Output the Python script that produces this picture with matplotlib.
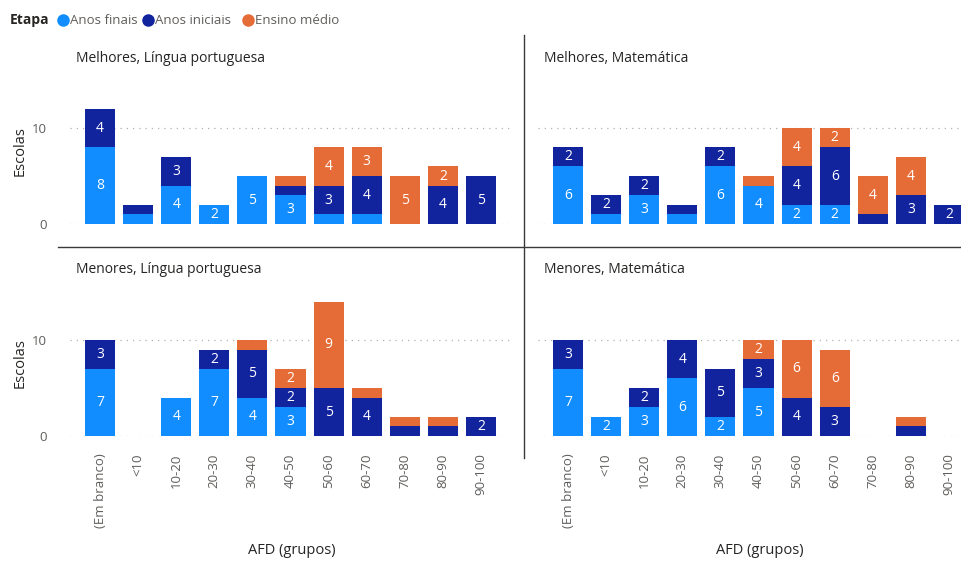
import matplotlib
matplotlib.use("Agg")
import matplotlib.pyplot as plt
from matplotlib.lines import Line2D
import numpy as np

plt.rcParams['font.family'] = ['Open Sans', 'DejaVu Sans']

groups = ["(Em branco)", "<10", "10-20", "20-30", "30-40", "40-50",
          "50-60", "60-70", "70-80", "80-90", "90-100"]
series = ["Anos finais", "Anos iniciais", "Ensino médio"]
colors = ["#118DFF", "#12239E", "#E66C37"]

# escolas por etapa em cada faixa de AFD
melhores_lp_finais = [8, 1, 4, 2, 5, 3, 1, 1, 0, 0, 0]
melhores_lp_iniciais = [4, 1, 3, 0, 0, 1, 3, 4, 0, 4, 5]
melhores_lp_medio = [0, 0, 0, 0, 0, 1, 4, 3, 5, 2, 0]

melhores_mat_finais = [6, 1, 3, 1, 6, 4, 2, 2, 0, 0, 0]
melhores_mat_iniciais = [2, 2, 2, 1, 2, 0, 4, 6, 1, 3, 2]
melhores_mat_medio = [0, 0, 0, 0, 0, 1, 4, 2, 4, 4, 0]

menores_lp_finais = [7, 0, 4, 7, 4, 3, 0, 0, 0, 0, 0]
menores_lp_iniciais = [3, 0, 0, 2, 5, 2, 5, 4, 1, 1, 2]
menores_lp_medio = [0, 0, 0, 0, 1, 2, 9, 1, 1, 1, 0]

menores_mat_finais = [7, 2, 3, 6, 2, 5, 0, 0, 0, 0, 0]
menores_mat_iniciais = [3, 0, 2, 4, 5, 3, 4, 3, 0, 1, 0]
menores_mat_medio = [0, 0, 0, 0, 0, 2, 6, 6, 0, 1, 0]

panels = [
    ("Melhores, Língua portuguesa",
     [melhores_lp_finais, melhores_lp_iniciais, melhores_lp_medio]),
    ("Melhores, Matemática",
     [melhores_mat_finais, melhores_mat_iniciais, melhores_mat_medio]),
    ("Menores, Língua portuguesa",
     [menores_lp_finais, menores_lp_iniciais, menores_lp_medio]),
    ("Menores, Matemática",
     [menores_mat_finais, menores_mat_iniciais, menores_mat_medio]),
]

W, H = 961, 561
fig = plt.figure(figsize=(W / 100, H / 100), dpi=100)

dark = "#252423"
grey = "#605E5C"

# caixas em pixels: (esquerda, direita, linha do zero, topo)
boxes = [(70, 510, 224, 84), (538, 961, 224, 84),
         (70, 510, 436, 296), (538, 961, 436, 296)]
first_center = [100, 568, 100, 568]
xlabel_center = [292, 760]
pitch = 38.1

x = np.arange(len(groups))
for i, ((title, vals), (l, r, b, t)) in enumerate(zip(panels, boxes)):
    ax = fig.add_axes([l / W, (H - b) / H, (r - l) / W, (b - t) / H])
    ax.set_xlim((l - first_center[i]) / pitch, (r - first_center[i]) / pitch)
    ax.set_ylim(0, (b - t) / 9.6)
    bottom = np.zeros(len(groups))
    for name, v, c in zip(series, vals, colors):
        v = np.array(v, dtype=float)
        ax.bar(x, v, width=0.79, bottom=bottom, color=c, label=name, zorder=3)
        for xi, (bi, vi) in enumerate(zip(bottom, v)):
            if vi >= 2:
                ax.text(xi, bi + vi / 2, f"{int(vi)}", ha="center", va="center",
                        color="white", fontsize=10, zorder=4)
        bottom += v
    ax.set_yticks([0, 10])
    ax.yaxis.grid(True, linestyle=(0, (1, 4)), color="#B3B0AD", linewidth=0.9, zorder=0)
    ax.set_axisbelow(True)
    for s in ax.spines.values():
        s.set_visible(False)
    ax.tick_params(length=0, colors=grey, labelsize=9.5)
    if i % 2 == 0:
        ax.tick_params(axis="y", pad=17)
        fig.text(20 / W, 1 - (b - 73) / H, "Escolas", rotation=90, fontsize=10.5,
                 color=dark, ha="center", va="center")
    else:
        ax.set_yticklabels([])
    if i >= 2:
        ax.set_xticks(x)
        ax.set_xticklabels(groups, rotation=90, va="top")
        ax.tick_params(axis="x", pad=12.5)
        fig.text(xlabel_center[i - 2] / W, 1 - 551 / H, "AFD (grupos)",
                 fontsize=10.5, color=dark, ha="center", va="center")
    else:
        ax.set_xticks([])
    fig.text((l + 6) / W, 1 - (t - 26) / H, title, fontsize=10, color=dark, va="center")

# separadores entre os painéis
fig.add_artist(Line2D([524 / W, 524 / W], [1 - 35 / H, 1 - 458 / H], color="#3B3A39", lw=1))
fig.add_artist(Line2D([58 / W, 1], [1 - 247 / H, 1 - 247 / H], color="#3B3A39", lw=1))

# legenda
fig.text(10 / W, 1 - 20 / H, "Etapa", fontsize=10, fontweight="bold", color=dark, va="center")
leg_x = [63, 148, 248]
for lx, name, c in zip(leg_x, series, colors):
    fig.add_artist(Line2D([lx / W], [1 - 20 / H], marker="o", markersize=8,
                          color=c, linestyle="none"))
    fig.text((lx + 7) / W, 1 - 20 / H, name, fontsize=9.5, color=grey, va="center")

fig.savefig("out.png", dpi=100)
